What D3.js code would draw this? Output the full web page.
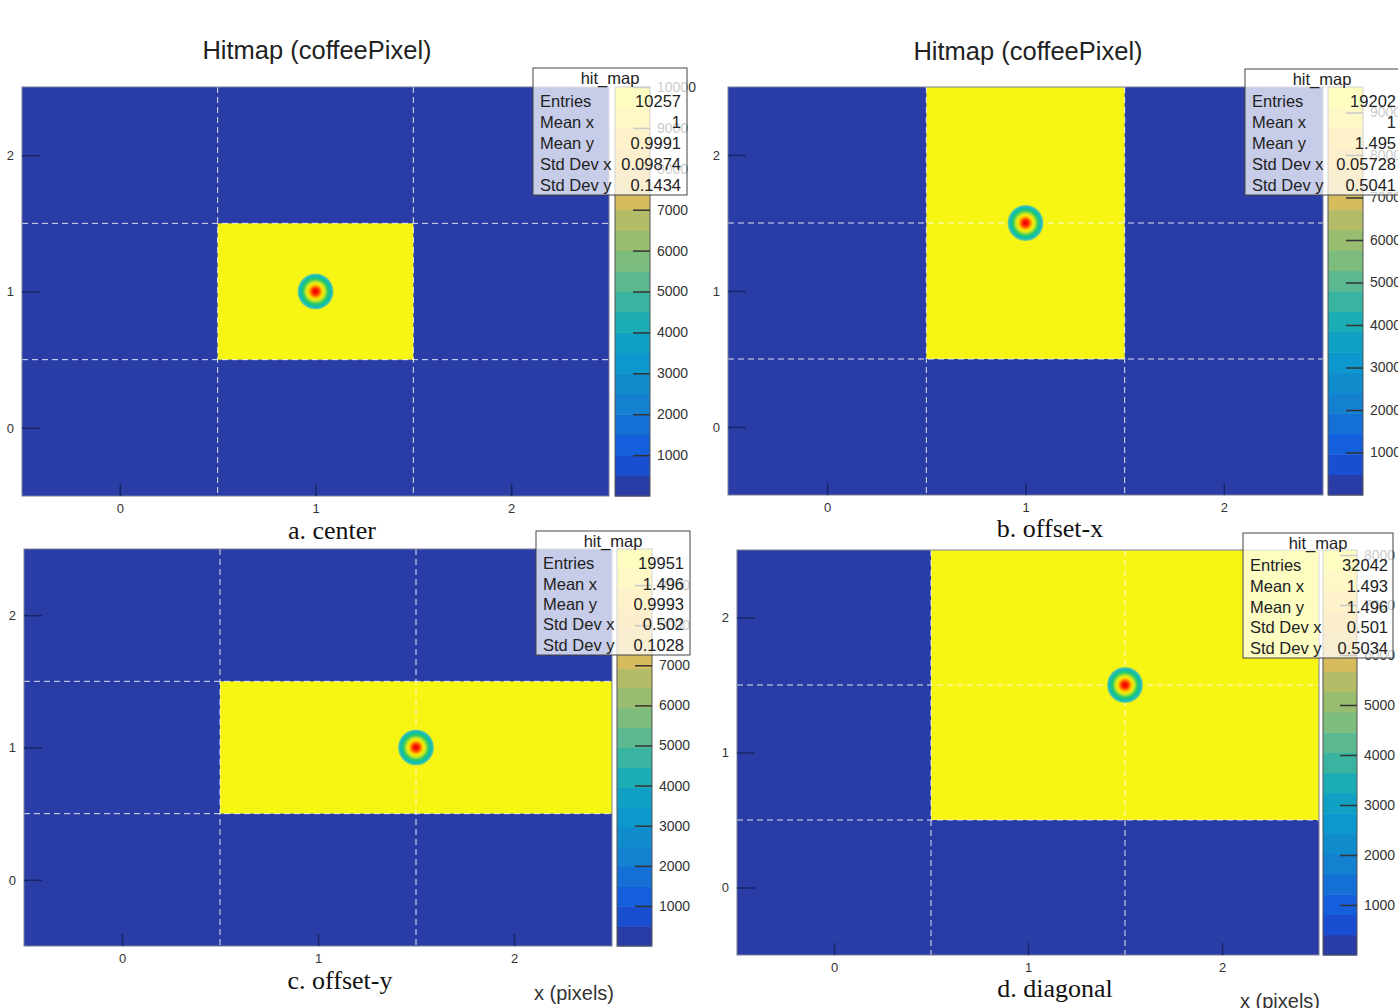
<!DOCTYPE html>
<html>
<head>
<meta charset="utf-8">
<script src="https://cdn.jsdelivr.net/npm/d3@7"></script>
<style>
  html, body { margin: 0; padding: 0; background: #fff; }
  svg { display: block; }
  text { font-family: "Liberation Sans", Arial, sans-serif; }
</style>
</head>
<body>
<svg id="chart" width="1398" height="1008"></svg>
<script>
// ---- data ----------------------------------------------------------------
const captions = ["a. center", "b. offset-x", "c. offset-y", "d. diagonal"];
const titles = ["Hitmap (coffeePixel)", "Hitmap (coffeePixel)", null, null];
const xTitles = [null, null, "x (pixels)", "x (pixels)"];
// pixels (column, row) that received hits
const hitPixels = [
  [[1, 1]],
  [[1, 1], [1, 2]],
  [[1, 1], [2, 1]],
  [[1, 1], [2, 1], [1, 2], [2, 2]]
];
// laser spot centre in pixel coordinates
const spotCenters = [[1, 1], [1, 1.5], [1.5, 1], [1.5, 1.5]];
const statsTitle = "hit_map";
const statLabels = ["Entries", "Mean x", "Mean y", "Std Dev x", "Std Dev y"];
const statValues = [
  ["10257", "1", "0.9991", "0.09874", "0.1434"],
  ["19202", "1", "1.495", "0.05728", "0.5041"],
  ["19951", "1.496", "0.9993", "0.502", "0.1028"],
  ["32042", "1.493", "1.496", "0.501", "0.5034"]
];
const zMax = [10000, 9600, 9900, 8100];
const axisTicks = [0, 1, 2];
const zTicks = [1000, 2000, 3000, 4000, 5000, 6000, 7000, 8000, 9000, 10000];
const pixelDomain = [-0.5, 2.5];

// ---- layout & style ------------------------------------------------------
const layout = [
  { fx: [22, 609], fy: [87, 496], cb: [615, 650], box: [533, 68, 154, 127], boxVal: 681,
    title: [317, 50], cap: [332, 530], xt: null },
  { fx: [728, 1323], fy: [87, 495], cb: [1328, 1363], box: [1245, 69, 160, 126], boxVal: 1396,
    title: [1028, 51], cap: [1050, 528], xt: null },
  { fx: [24, 612], fy: [549, 946], cb: [617, 652], box: [536, 531, 154, 124], boxVal: 684,
    title: null, cap: [340, 980], xt: [614, 993] },
  { fx: [737, 1319], fy: [550, 955], cb: [1323, 1357], box: [1243, 533, 150, 125], boxVal: 1388,
    title: null, cap: [1055, 988], xt: [1320, 1001] }
];
const bgBlue = "#2a3ca6";
const hitYellow = "#f6f514";
const bandColors = ["#2a3ca6", "#1a4ed0", "#1460dc", "#1470d4", "#1480d0",
  "#108ccc", "#0c98cc", "#10a0c4", "#1cacb4", "#38b4a0",
  "#5cb890", "#7cbc7c", "#98bc70", "#b4bc68", "#d6bc5c",
  "#e8bd4e", "#f2c040", "#fbcb32", "#fbe024", "#f8f814"];

const svg = d3.select("#chart");
const defs = svg.append("defs");
const grad = defs.append("radialGradient").attr("id", "spot");
[[0, "#e00000"], [0.16, "#ff2000"], [0.3, "#ff9400"], [0.42, "#f8ec00"],
 [0.55, "#b8e430"], [0.68, "#30cc60"], [0.8, "#10c09c"], [0.9, "#22bcbc"],
 [1, "#8cd878"]].forEach(([o, c]) =>
  grad.append("stop").attr("offset", o).attr("stop-color", c));

panelsDraw();

function panelsDraw() {
  captions.forEach((cap, i) => {
    const L = layout[i];
    const g = svg.append("g");
    const x = d3.scaleLinear().domain(pixelDomain).range(L.fx);
    const y = d3.scaleLinear().domain(pixelDomain).range([L.fy[1], L.fy[0]]);

    // plot background (empty bins)
    g.append("rect").attr("x", L.fx[0]).attr("y", L.fy[0])
      .attr("width", L.fx[1] - L.fx[0]).attr("height", L.fy[1] - L.fy[0])
      .attr("fill", bgBlue);

    // hit pixels
    g.selectAll("rect.hit").data(hitPixels[i]).join("rect").attr("class", "hit")
      .attr("x", d => x(d[0] - 0.5)).attr("y", d => y(d[1] + 0.5))
      .attr("width", d => x(d[0] + 0.5) - x(d[0] - 0.5))
      .attr("height", d => y(d[1] - 0.5) - y(d[1] + 0.5))
      .attr("fill", hitYellow);

    // pixel boundaries
    const bounds = [0.5, 1.5];
    g.selectAll("line.gx").data(bounds).join("line")
      .attr("x1", d => x(d)).attr("x2", d => x(d))
      .attr("y1", L.fy[0]).attr("y2", L.fy[1])
      .attr("stroke", "#ffffff").attr("stroke-opacity", 0.85)
      .attr("stroke-dasharray", "6,4");
    g.selectAll("line.gy").data(bounds).join("line")
      .attr("y1", d => y(d)).attr("y2", d => y(d))
      .attr("x1", L.fx[0]).attr("x2", L.fx[1])
      .attr("stroke", "#ffffff").attr("stroke-opacity", 0.85)
      .attr("stroke-dasharray", "6,4");

    // laser spot
    g.append("circle").attr("cx", x(spotCenters[i][0])).attr("cy", y(spotCenters[i][1]))
      .attr("r", 18).attr("fill", "url(#spot)");

    // frame
    g.append("rect").attr("x", L.fx[0]).attr("y", L.fy[0])
      .attr("width", L.fx[1] - L.fx[0]).attr("height", L.fy[1] - L.fy[0])
      .attr("fill", "none").attr("stroke", "#7a7f99").attr("stroke-width", 1);

    // axes (ticks inside frame)
    const ax = g.append("g").attr("transform", `translate(0,${L.fy[1]})`)
      .call(d3.axisBottom(x).tickValues(axisTicks).tickSize(-12).tickPadding(8).tickFormat(d3.format("d")));
    const ay = g.append("g").attr("transform", `translate(${L.fx[0]},0)`)
      .call(d3.axisLeft(y).tickValues(axisTicks).tickSize(-18).tickPadding(8).tickFormat(d3.format("d")));
    [ax, ay].forEach(a => {
      a.select(".domain").remove();
      a.selectAll(".tick line").attr("stroke", "#1a2566").attr("stroke-width", 1.5);
      a.selectAll(".tick text").attr("fill", "#333").attr("font-size", 13)
        .attr("font-family", "'Liberation Sans', Arial, sans-serif");
    });

    // colour bar
    const z = d3.scaleLinear().domain([0, zMax[i]]).range([L.fy[1], L.fy[0]]);
    const nb = bandColors.length;
    const step = zMax[i] / nb;
    g.selectAll("rect.band").data(bandColors).join("rect")
      .attr("x", L.cb[0]).attr("width", L.cb[1] - L.cb[0])
      .attr("y", (c, k) => z((k + 1) * step))
      .attr("height", (c, k) => z(k * step) - z((k + 1) * step) + 0.5)
      .attr("fill", c => c);
    g.append("rect").attr("x", L.cb[0]).attr("y", L.fy[0])
      .attr("width", L.cb[1] - L.cb[0]).attr("height", L.fy[1] - L.fy[0])
      .attr("fill", "none").attr("stroke", "#555").attr("stroke-width", 1);
    const az = g.append("g").attr("transform", `translate(${L.cb[1]},0)`)
      .call(d3.axisRight(z).tickValues(zTicks.filter(t => t <= zMax[i] + 50))
        .tickSize(-17).tickPadding(7).tickFormat(d3.format("d")));
    az.select(".domain").remove();
    az.selectAll(".tick line").attr("stroke", "#333").attr("stroke-width", 1.5);
    az.selectAll(".tick text").attr("fill", "#333").attr("font-size", 14)
      .attr("font-family", "'Liberation Sans', Arial, sans-serif");

    // statistics box
    const [bx, by, bw, bh] = L.box;
    g.append("rect").attr("x", bx).attr("y", by).attr("width", bw).attr("height", bh)
      .attr("fill", "#ffffff").attr("fill-opacity", 0.74)
      .attr("stroke", "#444").attr("stroke-width", 1);
    g.append("text").attr("x", bx + bw / 2 - (i === 1 ? 3 : 0)).attr("y", by + 16)
      .attr("text-anchor", "middle").attr("font-size", 16.5).attr("fill", "#222")
      .text(statsTitle);
    const rowH = (bh - 22) / statLabels.length;
    statLabels.forEach((lab, k) => {
      const ty = by + 22 + rowH * (k + 0.5) + 6;
      g.append("text").attr("x", bx + 7).attr("y", ty).attr("font-size", 16.5)
        .attr("fill", "#222").text(lab);
      g.append("text").attr("x", L.boxVal).attr("y", ty).attr("font-size", 16.5)
        .attr("text-anchor", "end").attr("fill", "#222").text(statValues[i][k]);
    });

    // titles and captions
    if (titles[i]) {
      g.append("text").attr("x", L.title[0]).attr("y", L.title[1] + 9)
        .attr("text-anchor", "middle").attr("font-size", 25.5).attr("fill", "#222")
        .text(titles[i]);
    }
    if (xTitles[i]) {
      g.append("text").attr("x", L.xt[0]).attr("y", L.xt[1] + 7)
        .attr("text-anchor", "end").attr("font-size", 20).attr("fill", "#333")
        .text(xTitles[i]);
    }
    g.append("text").attr("x", L.cap[0]).attr("y", L.cap[1] + 9)
      .attr("text-anchor", "middle").attr("font-size", 26).attr("fill", "#111")
      .style("font-family", "'Liberation Serif', 'Times New Roman', serif")
      .text(cap);
  });
}
</script>
</body>
</html>
